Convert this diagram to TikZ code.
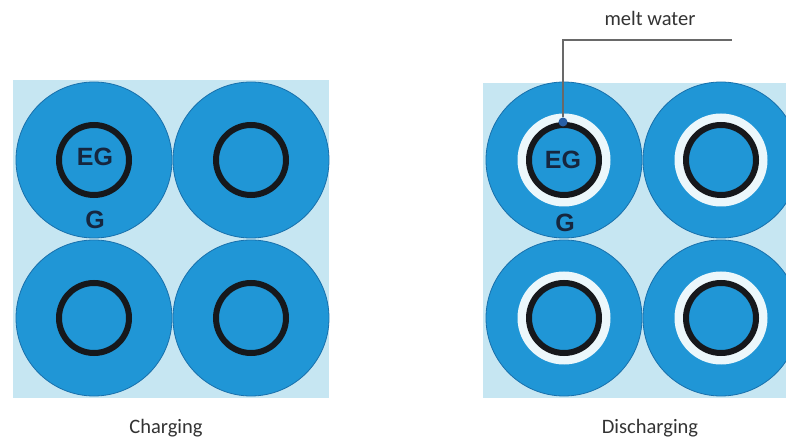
\documentclass[tikz,border=0pt]{standalone}
\usepackage{fontspec}
\setmainfont{Carlito}
\newfontfamily\tagfont{Liberation Sans}

\definecolor{bgpale}{RGB}{198,230,242}
\definecolor{cellblue}{RGB}{32,150,214}
\definecolor{celledge}{RGB}{24,112,172}
\definecolor{ringblack}{RGB}{22,24,28}
\definecolor{inktext}{RGB}{22,38,62}
\definecolor{meltwhite}{RGB}{236,247,251}
\definecolor{leadergray}{RGB}{105,105,105}
\definecolor{dotblue}{RGB}{40,95,165}

\tikzset{
  cell/.style={fill=cellblue, draw=celledge, line width=0.8bp},
  tube/.style={draw=ringblack, line width=6bp},
  meltring/.style={fill=meltwhite},
  tag/.style={font=\tagfont\bfseries\fontsize{25bp}{28bp}\selectfont, text=inktext, inner sep=0pt},
  caption/.style={font=\fontsize{20.5bp}{24bp}\selectfont, text=black!80, inner sep=0pt, anchor=base},
  leader/.style={draw=leadergray, line width=1.4bp},
  meltdot/.style={circle, fill=dotblue, inner sep=0pt, minimum size=9bp}
}

\begin{document}
\begin{tikzpicture}[x=1bp, y=-1bp]
  \useasboundingbox (0,0) rectangle (786,439);
  \fill[white] (0,0) rectangle (786,439);

  \begin{scope}
    \clip (0,0) rectangle (786,439);

    % charging: graphite shells around the encapsulated PCM tubes
    \fill[bgpale] (13,80) rectangle (329,398);
    \foreach \cx in {94,251}
      \foreach \cy in {160,318} {
        \draw[cell] (\cx,\cy) circle[radius=78];
        \draw[tube] (\cx,\cy) circle[radius=35];
      }

    % discharging: a melt-water film forms around each tube
    \fill[bgpale] (483,83) rectangle (786,398);
    \foreach \cx in {564,721}
      \foreach \cy in {160,318} {
        \draw[cell] (\cx,\cy) circle[radius=78];
        \fill[meltring] (\cx,\cy) circle[radius=46.5];
        \fill[cellblue] (\cx,\cy) circle[radius=36];
        \draw[tube] (\cx,\cy) circle[radius=35];
      }
  \end{scope}

  % labels inside the cells
  \node[tag] (eg1) at (95,157) {EG};
  \node[tag] (g1)  at (95,220) {G};
  \node[tag] (eg2) at (563,160) {EG};
  \node[tag] (g2)  at (565,223) {G};

  % callout for the melt water
  \node[meltdot] (drop) at (563,122) {};
  \coordinate (leadend) at (732,40);
  \draw[leader] (drop) |- (leadend);
  \node[caption] (melt) at (650,26) {melt water};

  % panel captions
  \node[caption] (chg) at (166,433) {Charging};
  \node[caption] (dis) at (650,433) {Discharging};
\end{tikzpicture}
\end{document}
